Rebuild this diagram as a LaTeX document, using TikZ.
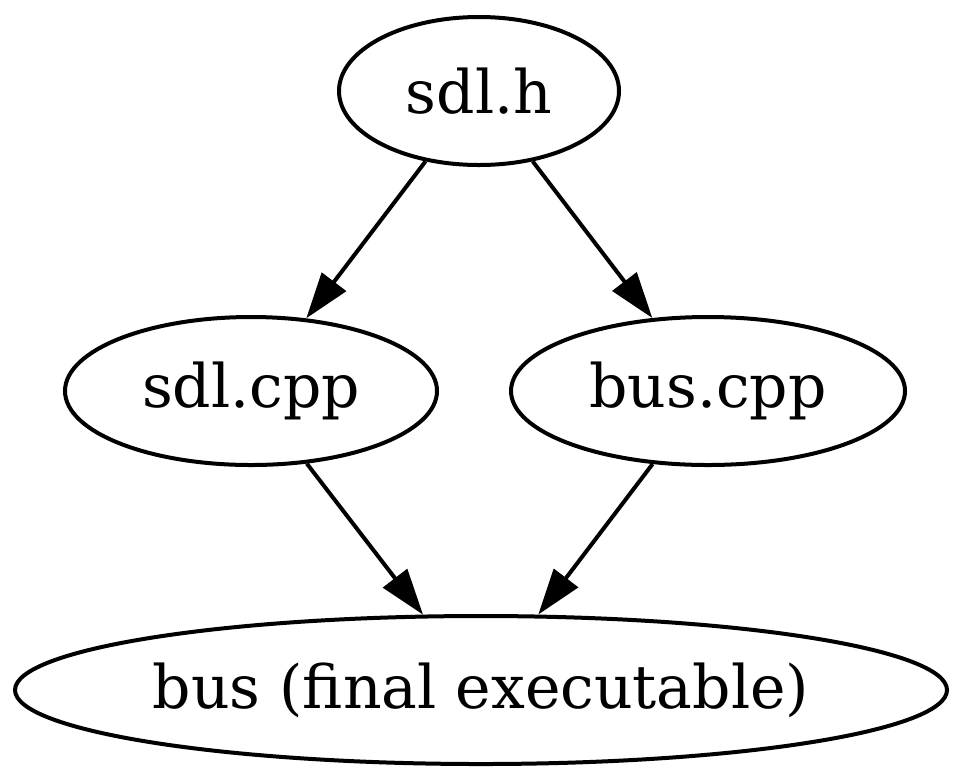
\documentclass[tikz,border=0pt]{standalone}
\usepackage{fontspec}
\setmainfont{DejaVu Serif}
\usetikzlibrary{shapes.geometric, arrows.meta}

\begin{document}
\begin{tikzpicture}[
    x=0.25pt, y=-0.25pt,
    % Styles
    file/.style={ % Source or header file
        ellipse,
        draw,
        line width=1pt,
        inner sep=0pt,
        minimum height=37pt,
        font=\fontsize{15}{18}\selectfont
    },
    arrow/.style={
        -{Triangle[length=11.5pt, width=7.5pt]},
        line width=1pt
    }
]

    % Page frame
    \useasboundingbox (0,0) rectangle (960,783);

    % Files
    \node [file, minimum width=70pt] (sdlh) at (479,91) {sdl.h};
    \node [file, minimum width=93pt] (sdlcpp) at (251,391) {sdl.cpp};
    \node [file, minimum width=98.5pt] (buscpp) at (708,391) {bus.cpp};
    \node [file, minimum width=233pt] (bus) at (481,690) {bus (final executable)};

    % Dependencies
    \draw [arrow] (sdlh) -- (sdlcpp);
    \draw [arrow] (sdlh) -- (buscpp);
    \draw [arrow] (sdlcpp) -- (bus);
    \draw [arrow] (buscpp) -- (bus);
\end{tikzpicture}
\end{document}
